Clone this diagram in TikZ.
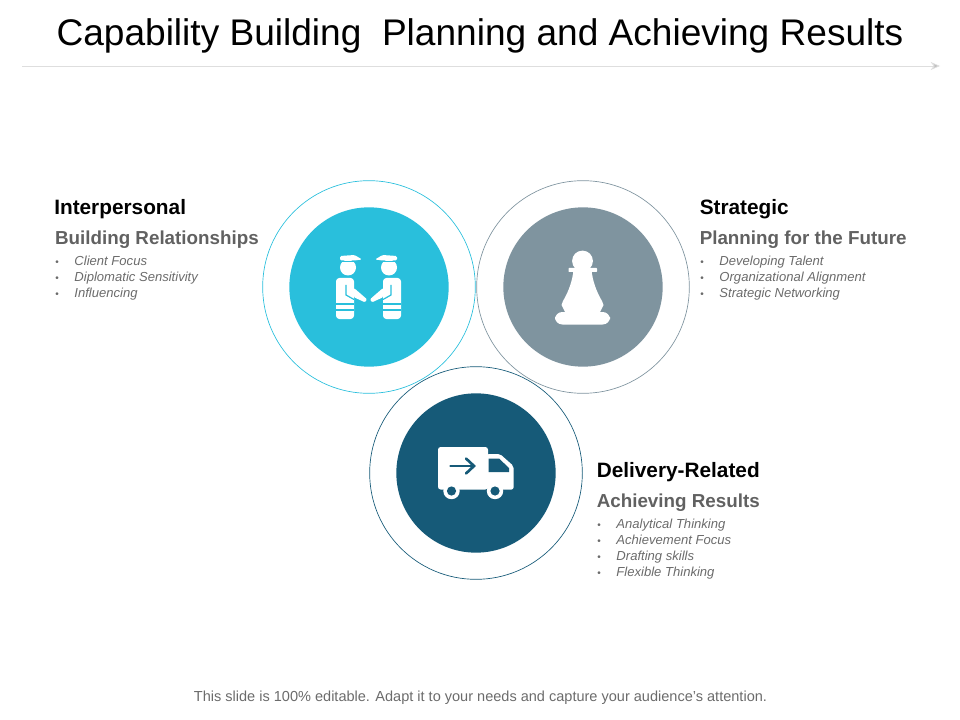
\documentclass[tikz,border=0pt]{standalone}
\usepackage{fontspec}
\setmainfont{Liberation Sans}
\usepackage{xcolor}
\usetikzlibrary{positioning,arrows.meta}
\definecolor{capCyan}{HTML}{29BFDC}
\definecolor{capSlate}{HTML}{7F949F}
\definecolor{capNavy}{HTML}{165A78}
\newcommand{\bulletitem}[1]{\hbox to 14.4pt{{\upshape\fontsize{7.5}{12}\selectfont\textbullet}\hfil}\textit{#1}}
\begin{document}
\begin{tikzpicture}[x=0.75pt,y=-0.75pt,
    ring/.style={circle,draw,line width=0.5pt,minimum size=159.5pt,inner sep=0pt},
    disc/.style={circle,minimum size=119.5pt,inner sep=0pt},
    headlabel/.style={anchor=west,inner sep=0pt,font=\fontsize{15.6}{16}\selectfont\bfseries},
    sublabel/.style={anchor=west,inner sep=0pt,text=black!62,font=\fontsize{14.1}{16}\selectfont\bfseries},
    listlabel/.style={anchor=north west,inner sep=0pt,align=left,text=black!58,font=\fontsize{9.8}{12}\selectfont}]
    \useasboundingbox (0,0) rectangle (960,720);

    \node[inner sep=0pt,font=\fontsize{27.8}{32}\selectfont] (title) at (480,36) {Capability Building\ \ Planning and Achieving Results};
    \coordinate (ruleStart) at (22,66);
    \coordinate (ruleEnd) at (940,66);
    \draw[black!13,line width=0.6pt,-{Stealth[length=7pt,width=6pt,fill=black!25]}] (ruleStart) -- (ruleEnd);

    % the three circles
    \node[ring,draw=capCyan] (ringA) at (369,287) {};
    \node[disc,fill=capCyan] (discA) at (369,287) {};
    \node[ring,draw=capSlate] (ringB) at (583,287) {};
    \node[disc,fill=capSlate] (discB) at (583,287) {};
    \node[ring,draw=capNavy] (ringC) at (476,473) {};
    \node[disc,fill=capNavy] (discC) at (476,473) {};

    % two people shaking hands
    \foreach \flip in {1,-1} {
        \begin{scope}[shift={(368.5,0)},xscale=\flip]
            \fill[white,rounded corners=2.5pt] (-32.5,319) -- (-32.5,278) -- (-14.5,278) -- (-14.5,319) -- cycle;
            \fill[white] (-20.5,267.5) circle (8);
            \draw[capCyan,line width=1pt] (-29,261.3) -- (-11,261.3);
            \fill[white,rounded corners=1pt] (-28.5,260.5) -- (-28.5,256) -- (-14,255) -- (-6.5,259.5) -- (-14,260.5) -- cycle;
            \draw[capCyan,line width=1.5pt] (-32.5,304) -- (-14.5,304) (-32.5,310) -- (-14.5,310);
            \draw[capCyan,line width=0.9pt] (-22.5,285) -- (-22.5,295) -- (-14.5,299.5);
            \fill[white,rounded corners=0.8pt] (-14.5,288) -- (-1.5,299.3) -- (-3.5,302.3) -- (-14.5,297.3) -- cycle;
        \end{scope}
    }

    % chess pawn
    \fill[white] (582.5,261) circle (10.4);
    \fill[white,rounded corners=0.5pt] (568.5,268) rectangle (597,272);
    \fill[white] (573.5,270) .. controls (572.5,280) and (569,291) .. (563,301) -- (561.5,305) -- (565,312)
        -- (600,312) -- (603.5,305) -- (602,301) .. controls (596,291) and (592.5,280) .. (591.5,270) -- cycle;
    \fill[white,rounded corners=5.5pt] (555,312) rectangle (610,324.5);

    % delivery truck
    \fill[white,rounded corners=2pt] (438,447) rectangle (488,489.5);
    \fill[white,rounded corners=1.5pt] (487,454) -- (500,454) -- (513.5,466) -- (513.5,489.5) -- (487,489.5) -- cycle;
    \fill[capNavy] (488.5,458.5) -- (499,458.5) -- (509,468) -- (509,472) -- (488.5,472) -- cycle;
    \draw[capNavy,line width=2pt,line cap=round] (450.5,466) -- (473,466);
    \draw[capNavy,line width=2pt,line cap=round] (466,458.5) -- (474,466) -- (466,473.5);
    \foreach \wheel in {451.5,495} {
        \fill[white] (\wheel,491) circle (8.2);
        \fill[capNavy] (\wheel,491) circle (4.6);
    }

    % labels
    \node[headlabel] (interHead) at (54,209.5) {Interpersonal};
    \node[sublabel,below=22.5pt of interHead.west,anchor=west,xshift=0.6pt] (interSub) {Building Relationships};
    \node[listlabel] (interList) at (55,255.5) {\bulletitem{Client Focus}\\\bulletitem{Diplomatic Sensitivity}\\\bulletitem{Influencing}};

    \node[headlabel] (stratHead) at (699.5,209.5) {Strategic};
    \node[sublabel,below=22.5pt of stratHead.west,anchor=west] (stratSub) {Planning for the Future};
    \node[listlabel] (stratList) at (700,255.5) {\bulletitem{Developing Talent}\\\bulletitem{Organizational Alignment}\\\bulletitem{Strategic Networking}};

    \node[headlabel] (delivHead) at (596.5,472.5) {Delivery-Related};
    \node[sublabel,below=22.5pt of delivHead.west,anchor=west] (delivSub) {Achieving Results};
    \node[listlabel] (delivList) at (597,518.5) {\bulletitem{Analytical Thinking}\\\bulletitem{Achievement Focus}\\\bulletitem{Drafting skills}\\\bulletitem{Flexible Thinking}};

    \node[inner sep=0pt,text=black!58,font=\fontsize{10.9}{13}\selectfont] (footer) at (480.5,698) {This slide is 100\% editable. Adapt it to your needs and capture your audience's attention.};
\end{tikzpicture}
\end{document}
